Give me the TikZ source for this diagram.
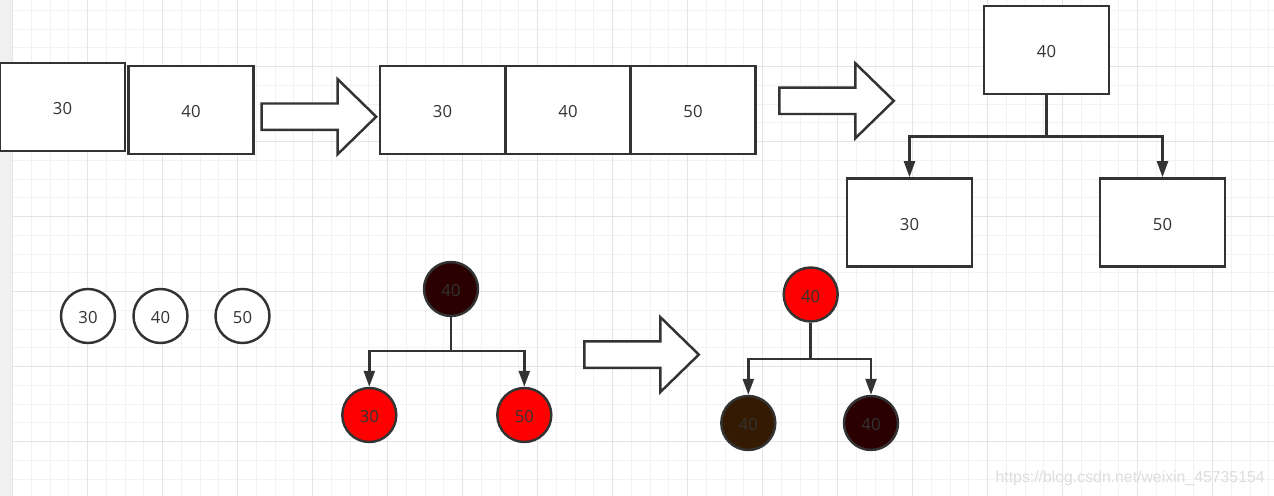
\documentclass[tikz,border=0pt]{standalone}
\usepackage{fontspec}
\setmainfont{Open Sans}
\newfontfamily\wmfont{Liberation Sans}
\usetikzlibrary{arrows.meta}

\definecolor{linegray}{HTML}{333333}
\definecolor{minorgrid}{HTML}{F2F2F2}
\definecolor{majorgrid}{HTML}{E4E4E4}
\definecolor{sidegray}{HTML}{F0F0F0}
\definecolor{blackred}{HTML}{2A0000}
\definecolor{blackbrown}{HTML}{331A00}
\definecolor{wmgray}{HTML}{DDDDDD}

\tikzset{
  cell/.style={rectangle, draw=linegray, line width=1.5pt, fill=white,
    minimum width=2.5cm, minimum height=1.76cm, inner sep=0pt,
    text height=9pt, text depth=0pt,
    text=linegray, font=\fontsize{9.5}{11}\selectfont},
  rbnode/.style={circle, draw=linegray, line width=1.4pt, fill=white,
    minimum size=1.08cm, inner sep=0pt,
    text height=9pt, text depth=0pt,
    text=linegray, font=\fontsize{9.5}{11}\selectfont},
  conn/.style={draw=linegray, line width=1.4pt,
    -{Triangle[length=0.32cm,width=0.22cm]}},
  blockarr/.style={draw=linegray, line width=1.4pt, fill=white, line join=miter}
}

\begin{document}
\begin{tikzpicture}[x=0.02cm, y=-0.02cm]
    % canvas and grid
    \useasboundingbox (0,0) rectangle (1274,496);
    \fill[white] (0,0) rectangle (1274,496);
    \fill[sidegray] (0,0) rectangle (12.7,496);
    \foreach \i in {0,...,67}
      \draw[minorgrid, line width=0.6pt] ({12.7+18.75*\i},0) -- ++(0,496);
    \foreach \j in {0,...,26}
      \draw[minorgrid, line width=0.6pt] (12.7,{10.45+18.75*\j}) -- (1274,{10.45+18.75*\j});
    \foreach \i in {0,...,16}
      \draw[majorgrid, line width=0.6pt] ({12.7+75*\i},0) -- ++(0,496);
    \foreach \j in {0,...,5}
      \draw[majorgrid, line width=0.6pt] (12.7,{66.7+75*\j}) -- (1274,{66.7+75*\j});

    % two separate keys
    \node[cell] (k30) at (62.5,107) {30};
    \node[cell] (k40) at (191,110) {40};

    % merged 3-node
    \node[cell] (m30) at (442.5,110) {30};
    \node[cell] (m40) at (568,110) {40};
    \node[cell] (m50) at (693,110) {50};

    % split into a small tree
    \node[cell] (t40) at (1046.5,50) {40};
    \node[cell] (t30) at (909.5,222.5) {30};
    \node[cell] (t50) at (1162.5,222.5) {50};
    \draw[conn] (t40) -- (t40 |- 0,136.7) -| (t30);
    \draw[conn] (t40) -- (t40 |- 0,136.7) -| (t50);

    % big arrows
    \foreach \x/\y in {261.7/116.7, 779.3/100.8, 584.3/354.6}
      \draw[blockarr] (\x,\y-13.2) -- ++(76,0) -- ++(0,-24.3) -- ++(38.5,37.5)
        -- ++(-38.5,37.5) -- ++(0,-24.3) -- ++(-76,0) -- cycle;

    % plain circles
    \node[rbnode] (c30) at (88,316) {30};
    \node[rbnode] (c40) at (160.5,316) {40};
    \node[rbnode] (c50) at (242.5,316) {50};

    % red-black tree before
    \node[rbnode, fill=blackred] (b40) at (451,289) {40};
    \node[rbnode, fill=red] (b30) at (369.3,415) {30};
    \node[rbnode, fill=red] (b50) at (524.3,415) {50};
    \draw[conn] (b40) -- (b40 |- 0,351) -| (b30);
    \draw[conn] (b40) -- (b40 |- 0,351) -| (b50);

    % after recolouring
    \node[rbnode, fill=red] (a40) at (810.7,294.5) {40};
    \node[rbnode, fill=blackbrown] (al40) at (748.3,423) {40};
    \node[rbnode, fill=blackred] (ar40) at (871,423) {40};
    \draw[conn] (a40) -- (a40 |- 0,359) -| (al40);
    \draw[conn] (a40) -- (a40 |- 0,359) -| (ar40);

    % watermark
    \node[anchor=east, inner sep=0pt, text=wmgray, font=\wmfont\fontsize{9}{10}\selectfont]
      (wm) at (1265,478) {https://blog.csdn.net/weixin\_45735154};
\end{tikzpicture}
\end{document}
